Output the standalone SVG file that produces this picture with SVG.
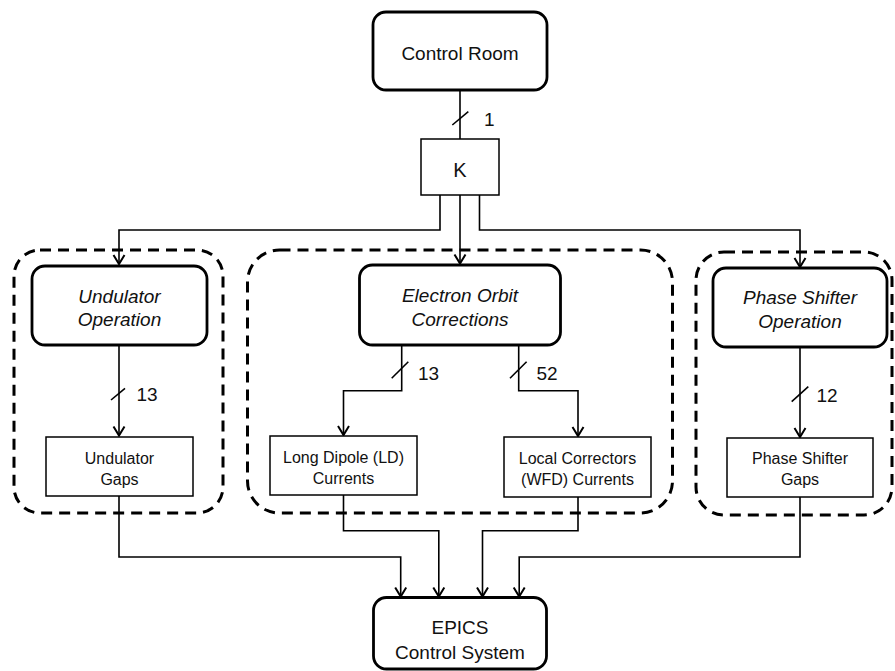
<svg xmlns="http://www.w3.org/2000/svg" width="895" height="671" viewBox="0 0 895 671">
<style>
.rn{fill:#fff;stroke:#000;stroke-width:2.8}
.bx{fill:#fff;stroke:#000;stroke-width:1.5}
.grp{fill:none;stroke:#000;stroke-width:3;stroke-dasharray:11 7}
.c{fill:none;stroke:#000;stroke-width:1.6}
.t{font-family:"Liberation Sans",Arial,sans-serif;fill:#111;text-anchor:middle}
.big{font-size:19px}
.it{font-size:19px;font-style:italic}
.sm{font-size:16px}
.n{font-family:"Liberation Sans",Arial,sans-serif;fill:#111;font-size:19px}
</style>
<defs>
<marker id="arr" viewBox="-11 -7 13 14" markerWidth="13" markerHeight="14" refX="0" refY="0" orient="auto" markerUnits="userSpaceOnUse">
<path d="M-9,-5.5 L0,0 L-9,5.5" fill="none" stroke="#000" stroke-width="2"/>
</marker>
</defs>
<rect fill="#fff" x="0" y="0" width="895" height="671"/>
<g id="groups">
<rect id="grp-undulator" class="grp" x="14" y="250" width="209" height="263" rx="26"/>
<rect id="grp-orbit" class="grp" x="247.5" y="250" width="425" height="263" rx="32"/>
<rect id="grp-phase" class="grp" x="696" y="252" width="196" height="263" rx="28"/>
</g>
<g id="connectors">
<path class="c" d="M460,90 V139"/>
<path class="c" d="M452.3,125 L468.3,111.7"/>
<text class="n" x="484" y="125.5">1</text>
<path class="c" d="M440,195 V230 H119 V264" marker-end="url(#arr)"/>
<path class="c" d="M460,195 V263.5" marker-end="url(#arr)"/>
<path class="c" d="M479.5,195 V230 H800 V267" marker-end="url(#arr)"/>
<path class="c" d="M119,345 V435.5" marker-end="url(#arr)"/>
<path class="c" d="M111,400 L125,388.3"/>
<text class="n" x="136.5" y="400.5">13</text>
<path class="c" d="M401.7,345 V390.7 H343.5 V435" marker-end="url(#arr)"/>
<path class="c" d="M391.7,378.3 L408.3,361.7"/>
<text class="n" x="418" y="380">13</text>
<path class="c" d="M518.7,345 V390.7 H578 V436" marker-end="url(#arr)"/>
<path class="c" d="M510,378.3 L526.6,361.7"/>
<text class="n" x="536.5" y="380">52</text>
<path class="c" d="M800,347 V437" marker-end="url(#arr)"/>
<path class="c" d="M791.7,401.7 L808.3,386.7"/>
<text class="n" x="816.5" y="401.5">12</text>
<path class="c" d="M119,496 V557 H400.7 V596.5" marker-end="url(#arr)"/>
<path class="c" d="M343.5,495 V530.7 H438.8 V596.5" marker-end="url(#arr)"/>
<path class="c" d="M578,497 V530.7 H482.5 V596.5" marker-end="url(#arr)"/>
<path class="c" d="M800,497 V557 H519.2 V596.5" marker-end="url(#arr)"/>
</g>
<g id="control-room">
<rect class="rn" x="373" y="12" width="174" height="78" rx="13"/>
<text class="t big" x="460" y="59.5">Control Room</text>
</g>
<g id="k">
<rect class="bx" x="421" y="139" width="78" height="56"/>
<text class="t" style="font-size:20px" x="460" y="177">K</text>
</g>
<g id="undulator-op">
<rect class="rn" x="32" y="266" width="175" height="79" rx="13"/>
<text class="t it" x="119.5" y="303">Undulator</text>
<text class="t it" x="119.5" y="325.5">Operation</text>
</g>
<g id="orbit">
<rect class="rn" x="359.5" y="265" width="201" height="80" rx="13"/>
<text class="t it" x="460" y="301.5">Electron Orbit</text>
<text class="t it" x="460" y="325.5">Corrections</text>
</g>
<g id="phase-op">
<rect class="rn" x="713" y="268" width="174" height="79" rx="13"/>
<text class="t it" x="800" y="303.5">Phase Shifter</text>
<text class="t it" x="800" y="327.5">Operation</text>
</g>
<g id="undulator-gaps">
<rect class="bx" x="46" y="437" width="147" height="59"/>
<text class="t sm" x="119.5" y="463.5">Undulator</text>
<text class="t sm" x="119.5" y="484.5">Gaps</text>
</g>
<g id="ld">
<rect class="bx" x="270" y="436" width="147" height="59"/>
<text class="t sm" x="343.5" y="463">Long Dipole (LD)</text>
<text class="t sm" x="343.5" y="484">Currents</text>
</g>
<g id="wfd">
<rect class="bx" x="504" y="437" width="147" height="60"/>
<text class="t sm" x="577.5" y="463.5">Local Correctors</text>
<text class="t sm" x="577.5" y="484.5">(WFD) Currents</text>
</g>
<g id="phase-gaps">
<rect class="bx" x="727" y="438" width="146" height="59"/>
<text class="t sm" x="800" y="464">Phase Shifter</text>
<text class="t sm" x="800" y="485">Gaps</text>
</g>
<g id="epics">
<rect class="rn" x="373.5" y="597.5" width="173" height="71.5" rx="13"/>
<text class="t big" x="460" y="633.5">EPICS</text>
<text class="t big" x="460" y="658.5">Control System</text>
</g>
</svg>
